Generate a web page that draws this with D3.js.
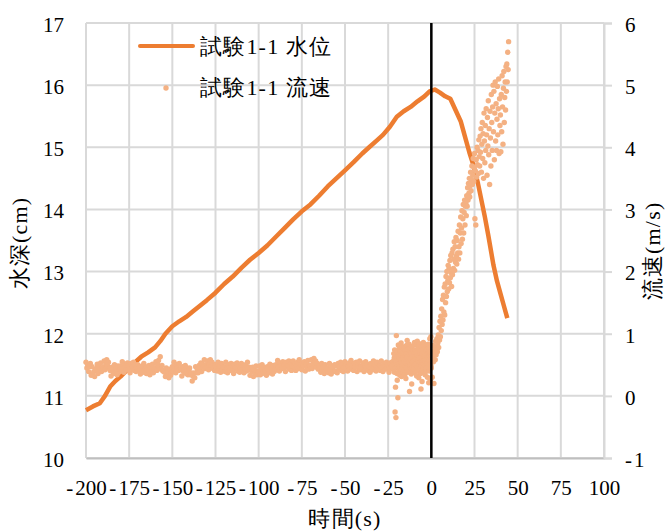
<!DOCTYPE html>
<html><head><meta charset="utf-8">
<script src="https://cdn.jsdelivr.net/npm/d3@7/dist/d3.min.js"></script>
<style>html,body{margin:0;padding:0;background:#fff;}</style>
</head>
<body>
<svg id="chart" width="668" height="531"></svg>
<script>
// ---- data ----
const xTicks = [-200,-175,-150,-125,-100,-75,-50,-25,0,25,50,75,100];
const yLeftTicks = [10,11,12,13,14,15,16,17];
const yRightTicks = [-1,0,1,2,3,4,5,6];
const seriesNames = ["試験1-1 水位","試験1-1 流速"];
const axisTitles = {x:"時間(s)", yLeft:"水深(cm)", yRight:"流速(m/s)"};

// water depth (cm) : time (s)
const depthTime = [-200,-196,-192,-189,-186,-183,-180,-176,-172,-168,-164,-160,-157,-154,-150,-146,-142,-138,-134,-130,-125,-120,-115,-110,-105,-100,-95,-90,-85,-80,-75,-70,-65,-60,-55,-50,-45,-40,-36,-32,-28,-24,-20,-16,-12,-8,-4,-1,2,5,8,11,14,17,19,22,24.5,27,29,31,33,36,38,40,42,44];
const depthValue = [10.77,10.83,10.88,11.0,11.15,11.24,11.31,11.42,11.53,11.63,11.70,11.78,11.88,12.0,12.12,12.2,12.27,12.36,12.45,12.54,12.66,12.8,12.92,13.06,13.19,13.3,13.42,13.56,13.7,13.84,13.97,14.08,14.22,14.37,14.5,14.63,14.76,14.9,15.0,15.1,15.2,15.33,15.49,15.58,15.65,15.74,15.82,15.9,15.93,15.88,15.82,15.78,15.6,15.42,15.22,14.92,14.7,14.42,14.15,13.88,13.58,13.1,12.85,12.65,12.45,12.25];

// velocity (m/s), quiet part sampled every 0.5 s from -200 s
const velQuietStart = -200, velQuietStep = 0.5;
const velQuiet = [
0.54,0.45,0.50,0.39,0.47,0.52,0.33,0.47,0.35,0.39,0.31,0.42,0.44,0.51,0.36,0.47,0.41,0.53,0.39,0.45,
0.46,0.56,0.42,0.51,0.58,0.48,0.54,0.44,0.41,0.32,0.46,0.43,0.36,0.50,0.40,0.44,0.34,0.48,0.38,0.42,
0.48,0.40,0.55,0.45,0.38,0.51,0.46,0.42,0.53,0.43,0.49,0.37,0.52,0.44,0.47,0.54,0.41,0.50,0.39,0.46,
0.50,0.41,0.46,0.35,0.43,0.48,0.38,0.52,0.40,0.44,0.36,0.47,0.42,0.49,0.34,0.45,0.39,0.51,0.37,0.43,
0.45,0.55,0.41,0.50,0.57,0.47,0.63,0.43,0.49,0.40,0.41,0.38,0.31,0.45,0.35,0.39,0.29,0.43,0.33,0.37,
0.47,0.39,0.54,0.44,0.37,0.50,0.45,0.41,0.52,0.42,0.44,0.32,0.47,0.39,0.42,0.49,0.36,0.45,0.34,0.41,
0.45,0.34,0.37,0.24,0.32,0.37,0.29,0.47,0.37,0.43,0.37,0.49,0.45,0.53,0.39,0.51,0.46,0.58,0.44,0.50,
0.46,0.56,0.42,0.51,0.58,0.48,0.54,0.44,0.50,0.41,0.50,0.47,0.40,0.54,0.44,0.48,0.38,0.52,0.42,0.46,
0.47,0.39,0.54,0.44,0.37,0.50,0.45,0.41,0.52,0.42,0.48,0.36,0.51,0.43,0.46,0.53,0.40,0.49,0.38,0.45,
0.52,0.43,0.48,0.37,0.45,0.50,0.40,0.54,0.42,0.46,0.33,0.44,0.39,0.46,0.31,0.42,0.36,0.48,0.34,0.40,
0.38,0.48,0.34,0.43,0.50,0.40,0.46,0.36,0.42,0.33,0.47,0.44,0.37,0.51,0.41,0.45,0.35,0.49,0.39,0.43,
0.50,0.42,0.57,0.47,0.40,0.53,0.48,0.44,0.55,0.45,0.51,0.39,0.54,0.46,0.49,0.56,0.43,0.52,0.41,0.48,
0.56,0.47,0.52,0.41,0.49,0.54,0.44,0.58,0.46,0.50,0.42,0.53,0.48,0.55,0.40,0.51,0.45,0.57,0.43,0.49,
0.48,0.58,0.44,0.53,0.60,0.50,0.56,0.46,0.52,0.43,0.48,0.45,0.38,0.52,0.42,0.46,0.36,0.50,0.40,0.44,
0.45,0.37,0.52,0.42,0.35,0.48,0.43,0.39,0.50,0.40,0.49,0.37,0.52,0.44,0.47,0.54,0.41,0.50,0.39,0.46,
0.55,0.46,0.51,0.40,0.48,0.53,0.43,0.57,0.45,0.49,0.41,0.52,0.47,0.54,0.39,0.50,0.44,0.56,0.42,0.48,
0.43,0.53,0.39,0.48,0.55,0.45,0.51,0.41,0.47,0.38,0.52,0.49,0.42,0.56,0.46,0.50,0.40,0.54,0.44,0.48,
0.49,0.41,0.56,0.46,0.39,0.52,0.47,0.43,0.54,0.44,0.50,0.38,0.53,0.45,0.48,0.55];

// velocity (m/s), burst part sampled every 0.125 s from -22 s
const velBurstStart = -22, velBurstStep = 0.125;
const velBurst = [
0.55,0.42,0.68,0.50,0.61,0.38,0.74,0.47,-0.26,0.58,0.14,0.66,-0.35,0.45,0.97,0.53,
0.62,0.36,0.25,0.71,0.49,-0.03,0.57,0.82,0.44,0.65,0.39,0.76,0.52,0.60,0.33,0.69,
0.47,0.72,0.55,0.40,0.85,0.58,0.31,0.66,0.49,0.78,0.43,0.61,0.54,0.70,0.37,0.63,
0.51,0.67,0.42,0.79,0.56,0.34,0.64,0.48,0.73,0.59,0.28,0.68,0.45,0.81,0.53,0.62,
0.89,0.46,0.70,0.57,0.38,0.75,0.52,0.64,0.41,0.83,0.55,0.07,0.67,0.49,0.72,0.60,
0.44,0.76,0.58,0.35,0.69,0.19,0.62,0.50,0.80,0.46,0.65,0.54,0.39,0.73,0.57,0.48,
0.70,0.43,0.86,0.56,0.63,0.37,0.74,0.51,0.68,0.45,0.82,0.59,0.32,0.66,0.53,0.88,
0.47,0.71,0.58,0.40,0.77,0.55,0.29,0.64,0.50,0.84,0.61,0.43,0.69,0.54,0.36,0.73,
0.11,0.62,0.48,0.79,0.56,0.23,0.68,0.41,0.74,0.52,0.60,0.86,0.45,0.67,0.38,0.57,
0.70,0.49,0.63,0.34,0.78,0.55,0.44,0.72,0.58,0.81,0.40,0.66,0.52,0.75,0.30,0.61,
0.54,0.83,0.45,0.68,0.21,0.59,0.77,0.40,0.64,0.92,0.50,0.71,0.26,0.62,0.95,0.48];

// velocity (m/s), rising part sampled every 0.25 s from 0 s
const velRiseStart = 0, velRiseStep = 0.25;
const velRise = [
0.45,0.72,0.30,0.62,0.81,0.55,0.20,0.68,0.75,0.58,0.88,0.66,0.79,0.92,0.71,0.85,
0.98,0.78,1.10,0.90,1.20,0.95,1.28,1.05,1.40,1.15,1.55,1.22,1.62,1.35,1.75,1.30,
1.80,1.50,1.92,1.60,2.00,1.68,1.85,2.10,1.72,2.05,1.82,2.18,1.90,2.26,1.98,1.76,
2.30,1.95,2.36,2.05,2.20,2.48,2.02,2.40,2.15,2.55,2.25,2.12,2.50,2.30,2.65,2.20,
2.40,2.75,2.30,2.62,2.88,2.45,2.70,2.98,2.52,2.85,3.08,2.62,2.95,3.15,2.75,3.05,
3.10,2.90,3.22,3.05,3.35,3.15,3.42,3.26,3.50,3.20,3.38,3.60,3.30,3.48,3.70,3.40,
3.55,3.82,3.45,3.68,3.90,2.85,3.62,2.75,3.80,3.52,4.00,3.72,3.95,3.58,4.12,3.85,
3.70,4.18,3.92,4.30,3.60,4.05,4.40,3.82,4.22,3.50,4.55,4.10,3.75,4.35,3.95,4.62,
4.20,3.55,4.48,4.02,4.75,3.88,4.30,3.40,4.58,4.15,3.70,4.85,4.40,3.95,4.65,5.00,
4.25,4.90,3.80,4.55,5.05,4.10,4.70,3.95,4.45,4.98,4.20,4.62,5.10,3.90,4.78,4.35,
4.52,3.93,4.85,4.25,5.15,4.65,4.05,4.95,5.22,4.40,4.80,5.05,4.60,5.30,4.90,5.34,
5.05,5.53,5.25,5.70];

// ---- chart ----
const svg = d3.select("#chart");
const plot = {left:86, right:604, top:23, bottom:458};
const x = d3.scaleLinear().domain([-200,100]).range([plot.left, plot.right]);
const yL = d3.scaleLinear().domain([10,17]).range([plot.bottom, plot.top]);
const yR = d3.scaleLinear().domain([-1,6]).range([plot.bottom, plot.top]);
const lineColor = "#ED7D31", dotColor = "#F4B183", gridColor = "#d9d9d9";
const FS = 21, FSJ = 22;
const FONT = '"Liberation Serif", cursive';

// grid
svg.append("g").selectAll("line").data(xTicks).join("line")
  .attr("x1", d=>x(d)).attr("x2", d=>x(d)).attr("y1", plot.top).attr("y2", plot.bottom)
  .attr("stroke", gridColor).attr("stroke-width", 2);
svg.append("g").selectAll("line").data(yLeftTicks).join("line")
  .attr("x1", plot.left).attr("x2", plot.right).attr("y1", d=>yL(d)).attr("y2", d=>yL(d))
  .attr("stroke", gridColor).attr("stroke-width", 2);

// axes
const axB = svg.append("g").attr("transform",`translate(0,${plot.bottom})`)
  .call(d3.axisBottom(x).tickValues(xTicks).tickSize(0).tickPadding(22).tickFormat(d=>String(d)));
const axL = svg.append("g").attr("transform",`translate(${plot.left},0)`)
  .call(d3.axisLeft(yL).tickValues(yLeftTicks).tickSize(0).tickPadding(22).tickFormat(d=>String(d)));
const axR = svg.append("g").attr("transform",`translate(${plot.right},0)`)
  .call(d3.axisRight(yR).tickValues(yRightTicks).tickSize(8).tickPadding(13).tickFormat(d=>String(d)));
[axB,axL,axR].forEach(a=>{
  a.attr("font-family", null).attr("font-size", null);
  a.select(".domain").attr("stroke", gridColor).attr("stroke-width", 2);
  a.selectAll(".tick line").attr("stroke", gridColor).attr("stroke-width", 2);
  a.selectAll(".tick text").style("font-family", FONT).style("font-size", FS+"px").attr("fill","#000")
    .each(function(d){
      if (d < 0) {
        const t = d3.select(this);
        t.text(null);
        t.append("tspan").text("-");
        t.append("tspan").attr("dx", 0.1*FS).text(String(-d));
      }
    });
});
axL.selectAll(".tick text").attr("dy","0.4em");
axR.selectAll(".tick text").attr("dy","0.4em");
axL.select(".domain").remove();
axB.select(".domain").attr("stroke","#bfbfbf");

// water depth line
const depthData = depthTime.map((t,i)=>({t, v:depthValue[i]}));
svg.append("path").datum(depthData)
  .attr("d", d3.line().x(d=>x(d.t)).y(d=>yL(d.v)))
  .attr("fill","none").attr("stroke",lineColor).attr("stroke-width",4.5).attr("stroke-linejoin","round");

// velocity scatter
const velData = velQuiet.map((v,i)=>({t:velQuietStart+i*velQuietStep, v}))
  .concat(velBurst.map((v,i)=>({t:velBurstStart+i*velBurstStep, v})))
  .concat(velRise.map((v,i)=>({t:velRiseStart+i*velRiseStep, v})));
svg.append("g").selectAll("circle").data(velData).join("circle")
  .attr("cx", d=>x(d.t)).attr("cy", d=>yR(d.v)).attr("r", 2.7)
  .attr("fill", dotColor);

// zero line
svg.append("line").attr("x1", x(0)).attr("x2", x(0)).attr("y1", plot.top).attr("y2", plot.bottom)
  .attr("stroke","#000").attr("stroke-width",2.5);

// text helper
function jtext(sel){ return sel.style("font-family", FONT).style("font-size", FSJ+"px").style("letter-spacing","1.2px").attr("fill","#000"); }

// legend
const lg = svg.append("g");
lg.append("line").attr("x1",140).attr("x2",193).attr("y1",46).attr("y2",46)
  .attr("stroke",lineColor).attr("stroke-width",4).attr("stroke-linecap","round");
jtext(lg.append("text").attr("x",200).attr("y",46).attr("dy","0.35em").text(seriesNames[0]));
lg.append("circle").attr("cx",166).attr("cy",88).attr("r",2.7).attr("fill",dotColor);
jtext(lg.append("text").attr("x",200).attr("y",87).attr("dy","0.35em").text(seriesNames[1]));

// axis titles
jtext(svg.append("text").attr("x",345).attr("y",526).attr("text-anchor","middle").text(axisTitles.x));
jtext(svg.append("text").attr("transform","translate(27,243) rotate(-90)").attr("text-anchor","middle").text(axisTitles.yLeft));
jtext(svg.append("text").attr("transform","translate(660,251) rotate(-90)").attr("text-anchor","middle").text(axisTitles.yRight));
</script>
</body></html>
